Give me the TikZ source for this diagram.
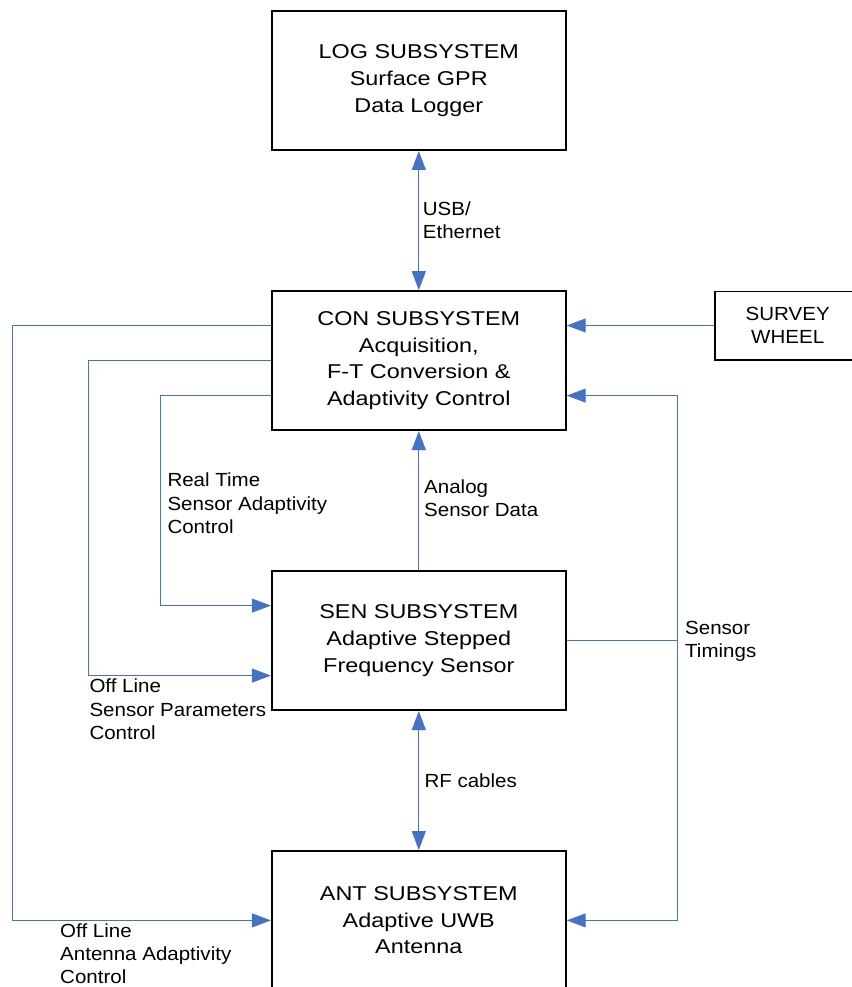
\documentclass[tikz,border=0pt]{standalone}
\usepackage{fontspec}
\setmainfont{Liberation Sans}
\newfontfamily\boxfont[FakeStretch=1.17]{Liberation Sans}
\newfontfamily\labfont[FakeStretch=1.08]{Liberation Sans}
\usetikzlibrary{arrows.meta}
\definecolor{lnblue}{RGB}{68,114,196}
\begin{document}
\begin{tikzpicture}[x=1pt,y=-1pt,
  sysbox/.style={draw=black, line width=1.8pt, minimum width=294pt, minimum height=139pt, inner sep=0pt, align=center, font=\boxfont\fontsize{20}{26.7}\selectfont},
  smallbox/.style={draw=black, line width=1.8pt, minimum width=145.6pt, minimum height=68.2pt, inner sep=0pt, align=center, font=\labfont\fontsize{19}{23.3}\selectfont},
  lab/.style={anchor=north west, inner sep=0pt, align=left, font=\labfont\fontsize{19}{23.3}\selectfont},
  conn/.style={draw=lnblue, line width=1pt},
  arr/.style={conn, -{Triangle[length=19pt,width=14pt]}},
  darr/.style={conn, {Triangle[length=19pt,width=14pt]}-{Triangle[length=19pt,width=14pt]}},
]
\useasboundingbox (0,0) rectangle (851,987);

\node[sysbox] (log) at (418.8,80.6) {LOG SUBSYSTEM\\Surface GPR\\Data Logger};
\node[sysbox] (con) at (418.8,360.6) {CON SUBSYSTEM\\Acquisition,\\F-T Conversion \&\\Adaptivity Control};
\node[sysbox] (sen) at (418.8,640.6) {SEN SUBSYSTEM\\Adaptive Stepped\\Frequency Sensor};
\node[sysbox] (ant) at (418.8,920.4) {ANT SUBSYSTEM\\Adaptive UWB\\Antenna};
\node[smallbox] (survey) at (787.7,325.5) {SURVEY\\WHEEL};

% vertical links
\draw[darr] (log.south) -- (con.north);
\draw[arr] (sen.north) -- (con.south);
\draw[darr] (sen.south) -- (ant.north);

% survey wheel
\draw[arr] (survey.west) -- (survey.west -| con.east);

% left-hand control lines
\draw[arr] ([yshift=35pt]con.west) -- ++(-258.5,0) |- (ant.west);
\draw[arr] (con.west) -- ++(-182.5,0) |- ([yshift=-35pt]sen.west);
\draw[arr] ([yshift=-35pt]con.west) -- ++(-110.5,0) |- ([yshift=35pt]sen.west);

% sensor timings
\draw[conn] (sen.east) -- ++(110.5,0) coordinate (st);
\draw[arr] (st) |- ([yshift=-35pt]con.east);
\draw[arr] (st) |- (ant.east);

% labels
\node[lab] (lusb) at (422.7,201.2) {USB/\\Ethernet};
\node[lab] (lrt) at (167.3,472.9) {Real Time\\Sensor Adaptivity\\Control};
\node[lab] (lan) at (424,479.5) {Analog\\Sensor Data};
\node[lab] (lst) at (685,621.2) {Sensor\\Timings};
\node[lab] (loff) at (89.3,678.9) {Off Line\\Sensor Parameters\\Control};
\node[lab] (lrf) at (424.3,773.5) {RF cables};
\node[lab] (lant) at (60,923.3) {Off Line\\Antenna Adaptivity\\Control};
\end{tikzpicture}
\end{document}
